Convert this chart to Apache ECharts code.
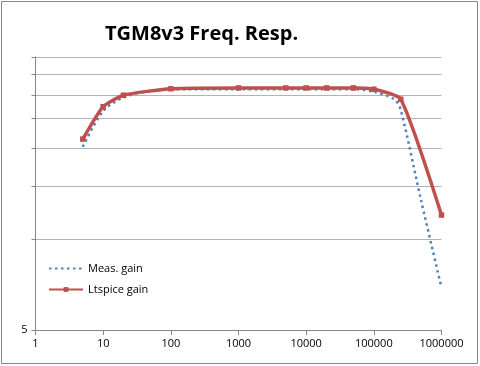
<!DOCTYPE html>
<html><head><meta charset="utf-8">
<script src="https://cdn.jsdelivr.net/npm/echarts@6/dist/echarts.min.js"></script>
<style>html,body{margin:0;padding:0;background:#fff}#c{width:480px;height:366px}</style>
</head><body><div id="c"></div>
<script>
var xTicks = [1, 10, 100, 1000, 10000, 100000, 1000000];
var yTicks = [5, 10, 15, 20, 25, 30, 35, 40];
var measFreq = [5, 10, 20, 50, 100, 1000, 10000, 50000, 100000, 200000, 250000, 500000, 1000000];
var measGain = [20.2, 26.5, 29.4, 30.9, 31.3, 31.3, 31.3, 31.3, 30.7, 29.0, 26.7, 13.4, 6.9];
var spiceFreq = [5, 10, 20, 100, 1000, 5000, 10000, 20000, 50000, 100000, 250000, 1000000];
var spiceGain = [21.4, 27.4, 29.9, 31.4, 31.6, 31.6, 31.6, 31.6, 31.6, 31.3, 29.0, 12.0];

function pairs(xs, ys) { return xs.map(function (x, i) { return [x, ys[i]]; }); }

var chart = echarts.init(document.getElementById('c'));
chart.setOption({
  animation: false,
  title: {
    text: 'TGM8v3 Freq. Resp.',
    left: 100, top: 19,
    textStyle: { fontFamily: 'Open Sans', fontWeight: 'bold', fontSize: 20, color: '#000' }
  },
  graphic: [{
    type: 'rect', shape: { x: 1.5, y: 1.5, width: 476, height: 362 },
    style: { fill: 'none', stroke: '#878787', lineWidth: 1 }, silent: true
  }],
  legend: {
    orient: 'vertical', left: 43, top: 258, itemGap: 10, itemWidth: 34, itemHeight: 6,
    textStyle: { fontFamily: 'Open Sans', fontSize: 11, color: '#000' },
    data: [
      { name: 'Meas. gain', itemStyle: { opacity: 0 } },
      { name: 'Ltspice gain' }
    ]
  },
  grid: { left: 35.5, right: 38.5, top: 57, bottom: 36 },
  xAxis: {
    type: 'log', logBase: 10, min: 1, max: 1000000,
    axisLine: { lineStyle: { color: '#868686' } },
    axisTick: { show: true, length: 5, lineStyle: { color: '#868686' } },
    axisLabel: { color: '#000', fontFamily: 'Open Sans', fontSize: 11, margin: 8,
      formatter: function (v) { return String(Math.round(v)); } },
    splitLine: { show: false }
  },
  yAxis: {
    type: 'log', logBase: 10, min: 5, max: 40,
    axisLine: { show: true, lineStyle: { color: '#868686' } },
    axisTick: { show: true, length: 4, customValues: yTicks, lineStyle: { color: '#868686' } },
    axisLabel: { color: '#000', fontFamily: 'Open Sans', fontSize: 11, margin: 8, customValues: [5] },
    splitLine: { show: true, lineStyle: { color: '#b3b3b3' } }
  },
  series: [
    {
      name: 'Meas. gain', type: 'line', smooth: 0.3, symbol: 'none',
      data: pairs(measFreq, measGain),
      lineStyle: { color: '#4F81BD', width: 2.5, type: [2.5, 3.5], cap: 'butt' },
      itemStyle: { color: '#4F81BD' }, z: 2
    },
    {
      name: 'Ltspice gain', type: 'line', smooth: 0.18, symbol: 'rect', symbolSize: 5.5,
      data: pairs(spiceFreq, spiceGain),
      lineStyle: { color: '#C0504D', width: 3.5 },
      itemStyle: { color: '#C0504D' }, z: 3
    }
  ]
});
</script></body></html>
